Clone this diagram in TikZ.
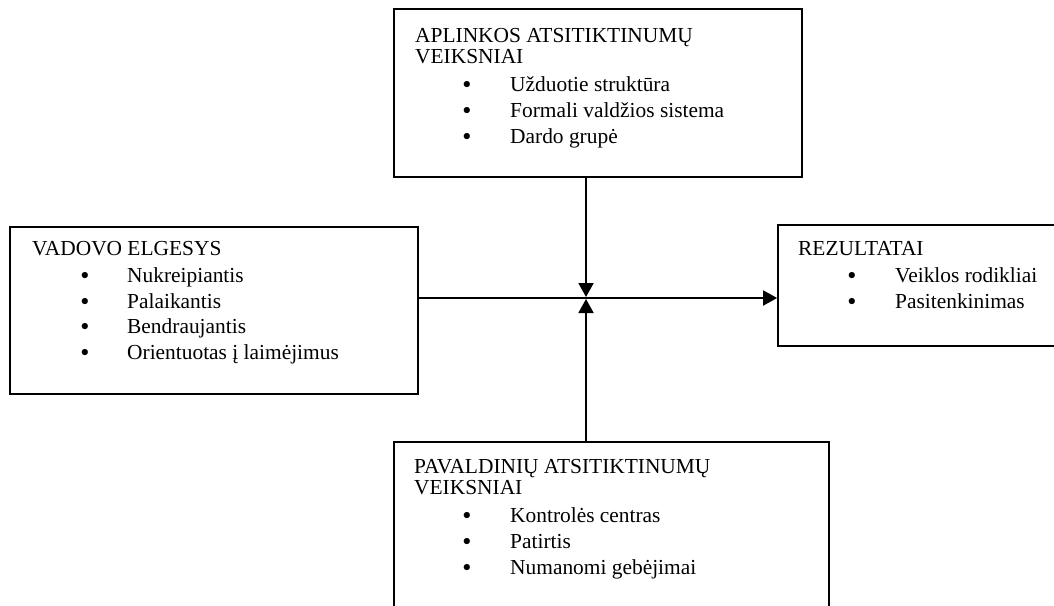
\documentclass[tikz,border=0pt]{standalone}
\usepackage{fontspec}
\setmainfont{Liberation Serif}
\newfontfamily\bulfont{DejaVu Sans}
\usetikzlibrary{arrows.meta}
\begin{document}
\begin{tikzpicture}[x=1pt,y=-1pt,
  box/.style={draw=black, line width=1.8pt, inner sep=0pt, fill=none},
  conn/.style={draw=black, line width=1.9pt, -{Triangle[length=14pt,width=15pt]}},
  ttl/.style={anchor=base west, inner sep=0pt},
  bul/.style={anchor=base, inner sep=0pt, yshift=-1pt, font=\bulfont\fontsize{21.4}{24}\selectfont},
  itm/.style={anchor=base west, inner sep=0pt}]
\fontsize{21.4}{25}\selectfont
\clip (0,0) rectangle (1054,605);
\fill[white] (0,0) rectangle (1054,605);

% boxes
\node[box, minimum width=408pt, minimum height=168pt] (aplink) at (598,93) {};
\node[box, minimum width=408pt, minimum height=167pt] (vad) at (214,310.5) {};
\node[box, minimum width=282pt, minimum height=121pt] (rez) at (919,285.5) {};
\node[box, minimum width=435pt, minimum height=180pt] (pav) at (611.5,532) {};

% top box text
\node[ttl] (t1) at (415,42) {APLINKOS ATSITIKTINUMŲ};
\node[ttl] (t2) at (415,63) {VEIKSNIAI};
\node[bul] (tb1) at (467,91) {•};
\node[itm] (ti1) at (510,91) {Užduotie struktūra};
\node[bul] (tb2) at (467,117) {•};
\node[itm] (ti2) at (510,117) {Formali valdžios sistema};
\node[bul] (tb3) at (467,143) {•};
\node[itm] (ti3) at (510,143) {Dardo grupė};

% left box text
\node[ttl] (l1) at (32,255) {VADOVO ELGESYS};
\node[bul] (lb1) at (85,282) {•};
\node[itm] (li1) at (127,282) {Nukreipiantis};
\node[bul] (lb2) at (85,308) {•};
\node[itm] (li2) at (127,308) {Palaikantis};
\node[bul] (lb3) at (85,333) {•};
\node[itm] (li3) at (127,333) {Bendraujantis};
\node[bul] (lb4) at (85,359) {•};
\node[itm] (li4) at (127,359) {Orientuotas į laimėjimus};

% right box text
\node[ttl] (r1) at (798,255) {REZULTATAI};
\node[bul] (rb1) at (852,282) {•};
\node[itm] (ri1) at (895,282) {Veiklos rodikliai};
\node[bul] (rb2) at (852,308) {•};
\node[itm] (ri2) at (895,308) {Pasitenkinimas};

% bottom box text
\node[ttl] (b1) at (414,473) {PAVALDINIŲ ATSITIKTINUMŲ};
\node[ttl] (b2) at (414,494) {VEIKSNIAI};
\node[bul] (bb1) at (467,522) {•};
\node[itm] (bi1) at (510,522) {Kontrolės centras};
\node[bul] (bb2) at (467,548) {•};
\node[itm] (bi2) at (510,548) {Patirtis};
\node[bul] (bb3) at (467,574) {•};
\node[itm] (bi3) at (510,574) {Numanomi gebėjimai};

% connectors
\coordinate (hub) at (586,298);
\coordinate (hubtop) at (586,297);
\coordinate (hubbot) at (586,299);
\draw[conn] (aplink.south -| hub) -- (hubtop);
\draw[conn] (pav.north -| hub) -- (hubbot);
\draw[conn] (vad.east |- hub) -- (rez.west |- hub);
\end{tikzpicture}
\end{document}
